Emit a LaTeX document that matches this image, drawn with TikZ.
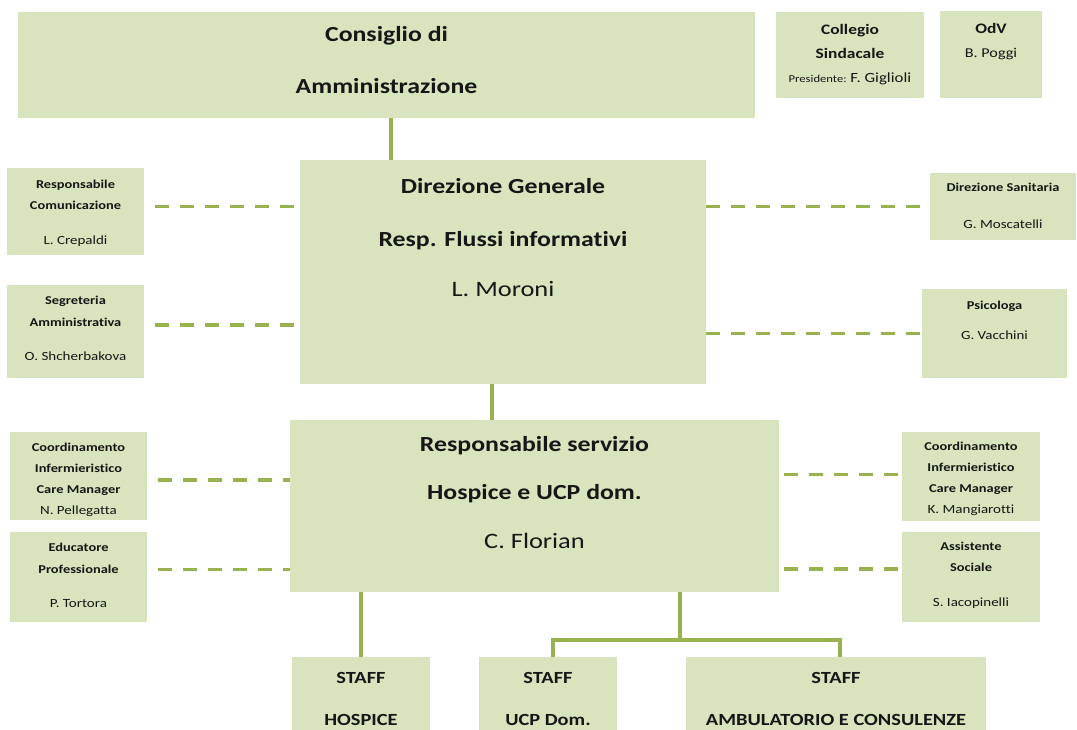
\documentclass[tikz,border=0pt]{standalone}
\usepackage{fontspec}
\setmainfont{Carlito}[FakeStretch=1.2, Ligatures=CommonOff]
\usetikzlibrary{positioning}
\definecolor{boxfill}{HTML}{D7E4BD}
\definecolor{linkgreen}{HTML}{98B24F}
\definecolor{ink}{HTML}{161616}

\begin{document}
\begin{tikzpicture}[x=1pt, y=-1pt,
    box/.style={fill=boxfill, inner sep=0pt, outer sep=0pt},
    txt/.style={align=center, inner sep=0pt, text=ink},
    link/.style={linkgreen, line width=3.6pt},
    dashlink/.style={linkgreen, line width=3.6pt, dash pattern=on 14pt off 11pt}]

    \useasboundingbox (0,0) rectangle (1077,730);

    % boxes
    \node[box, minimum width=737pt, minimum height=106pt] (cda) at (386.5,65) {};
    \node[box, minimum width=148pt, minimum height=86pt] (col) at (850,55) {};
    \node[box, minimum width=102pt, minimum height=87pt] (odv) at (991,54.5) {};
    \node[box, minimum width=406pt, minimum height=224pt] (dg) at (503,272) {};
    \node[box, minimum width=137pt, minimum height=87pt] (rc) at (75.5,211.5) {};
    \node[box, minimum width=137pt, minimum height=93pt] (sa) at (75.5,331.5) {};
    \node[box, minimum width=146pt, minimum height=67pt] (ds) at (1003,206.5) {};
    \node[box, minimum width=145pt, minimum height=89pt] (ps) at (994.5,333.5) {};
    \node[box, minimum width=489pt, minimum height=172pt] (rs) at (534.5,506) {};
    \node[box, minimum width=137pt, minimum height=88pt] (cil) at (78.5,476) {};
    \node[box, minimum width=137pt, minimum height=90pt] (ed) at (78.5,577) {};
    \node[box, minimum width=138pt, minimum height=89pt] (cir) at (971,476.5) {};
    \node[box, minimum width=138pt, minimum height=90pt] (as) at (971,577) {};
    \node[box, minimum width=138pt, minimum height=73pt] (hos) at (361,693.5) {};
    \node[box, minimum width=138pt, minimum height=73pt] (ucp) at (548,693.5) {};
    \node[box, minimum width=300pt, minimum height=73pt] (amb) at (836,693.5) {};

    % texts
    \node[txt, font=\fontsize{21.5}{52}\selectfont\bfseries, below=14pt of cda.north] (cda-t)
        {Consiglio di\\Amministrazione};
    \node[txt, font=\fontsize{14.5}{24}\selectfont\bfseries, below=12pt of col.north] (col-t)
        {Collegio\\Sindacale\\{\mdseries\fontsize{10.5}{24}\selectfont Presidente: \fontsize{14}{24}\selectfont F. Giglioli}};
    \node[txt, font=\fontsize{14.5}{24}\selectfont\bfseries, below=12pt of odv.north] (odv-t)
        {OdV\\{\mdseries\fontsize{13.5}{24}\selectfont B. Poggi}};
    \node[txt, font=\fontsize{21.5}{50}\selectfont\bfseries, below=18pt of dg.north] (dg-t)
        {Direzione Generale\\[3.4pt]Resp. Flussi informativi\\{\mdseries\fontsize{22}{50}\selectfont L. Moroni}};
    \node[txt, font=\fontsize{12}{21.7}\selectfont\bfseries, below=11.6pt of rc.north] (rc-t)
        {Responsabile\\Comunicazione\\[13.3pt]{\mdseries\fontsize{12.5}{21.7}\selectfont L. Crepaldi}};
    \node[txt, font=\fontsize{12}{22}\selectfont\bfseries, below=10.6pt of sa.north] (sa-t)
        {Segreteria\\Amministrativa\\[12.3pt]{\mdseries\fontsize{12.5}{22}\selectfont O. Shcherbakova}};
    \node[txt, font=\fontsize{12}{36.6}\selectfont\bfseries, below=10pt of ds.north] (ds-t)
        {Direzione Sanitaria\\{\mdseries\fontsize{12.5}{36.6}\selectfont G. Moscatelli}};
    \node[txt, font=\fontsize{12}{29.3}\selectfont\bfseries, below=12.3pt of ps.north] (ps-t)
        {Psicologa\\{\mdseries\fontsize{12.5}{29.3}\selectfont G. Vacchini}};
    \node[txt, font=\fontsize{21.5}{48.5}\selectfont\bfseries, below=16pt of rs.north] (rs-t)
        {Responsabile servizio\\Hospice e UCP dom.\\{\mdseries\fontsize{22}{48.5}\selectfont C. Florian}};
    \node[txt, font=\fontsize{12}{21}\selectfont\bfseries, below=10.6pt of cil.north] (cil-t)
        {Coordinamento\\Infermieristico\\Care Manager\\{\mdseries\fontsize{12.5}{21}\selectfont N. Pellegatta}};
    \node[txt, font=\fontsize{12}{22}\selectfont\bfseries, below=10.6pt of ed.north] (ed-t)
        {Educatore\\Professionale\\[12pt]{\mdseries\fontsize{12.5}{22}\selectfont P. Tortora}};
    \node[txt, font=\fontsize{12}{21}\selectfont\bfseries, below=10pt of cir.north] (cir-t)
        {Coordinamento\\Infermieristico\\Care Manager\\{\mdseries\fontsize{12.5}{21}\selectfont K. Mangiarotti}};
    \node[txt, font=\fontsize{12}{21}\selectfont\bfseries, below=10pt of as.north] (as-t)
        {Assistente\\Sociale\\[14pt]{\mdseries\fontsize{12.5}{21}\selectfont S. Iacopinelli}};
    \node[txt, font=\fontsize{17}{42}\selectfont\bfseries, below=15pt of hos.north] (hos-t) {STAFF\\HOSPICE};
    \node[txt, font=\fontsize{17}{42}\selectfont\bfseries, below=15pt of ucp.north] (ucp-t) {STAFF\\UCP Dom.};
    \node[txt, font=\fontsize{17}{42}\selectfont\bfseries, below=15pt of amb.north] (amb-t) {STAFF\\AMBULATORIO E CONSULENZE};

    % solid links
    \draw[link] ([xshift=4.5pt]cda.south) -- ([xshift=4.5pt]cda.south |- dg.north);
    \draw[link] ([xshift=-11pt]dg.south) -- ([xshift=-11pt]dg.south |- rs.north);
    \draw[link] (hos.north |- rs.south) -- (hos.north);
    \coordinate (fork) at (680,640);
    \draw[link] (fork |- rs.south) -- (fork);
    \draw[link] ([xshift=5pt]ucp.north) |- (fork) -| ([xshift=4pt]amb.north);

    % dashed links
    \draw[dashlink, dash phase=14pt] ([yshift=5pt]rc.east) -- ([yshift=5pt]rc.east -| dg.west);
    \draw[dashlink, dash phase=14pt] ([yshift=6.5pt]sa.east) -- ([yshift=6.5pt]sa.east -| dg.west);
    \draw[dashlink] (ds.west -| dg.east) -- (ds.west);
    \draw[dashlink] (ps.west -| dg.east) -- (ps.west);
    \draw[dashlink, dash phase=14pt] ([yshift=-4pt]cil.east) -- ([yshift=-4pt]cil.east -| rs.west);
    \draw[dashlink, dash phase=14pt] ([yshift=7.5pt]ed.east) -- ([yshift=7.5pt]ed.east -| rs.west);
    \draw[dashlink, dash phase=20pt] ([yshift=2pt]cir.west -| rs.east) -- ([yshift=2pt]cir.west);
    \draw[dashlink, dash phase=20pt] ([yshift=8pt]as.west -| rs.east) -- ([yshift=8pt]as.west);
\end{tikzpicture}
\end{document}
